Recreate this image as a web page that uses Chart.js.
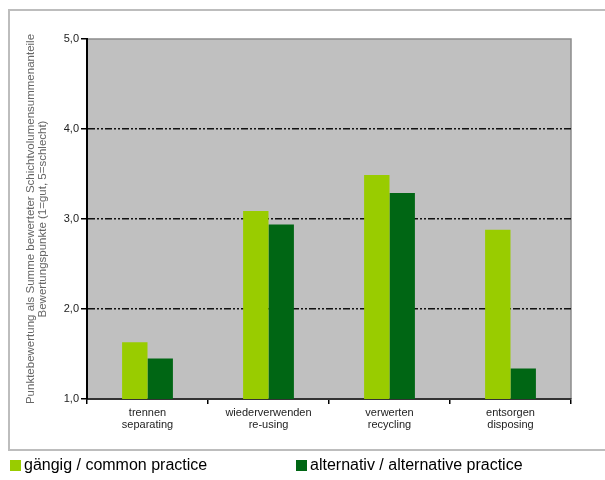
<!DOCTYPE html>
<html>
<head>
<meta charset="utf-8">
<script src="https://cdn.jsdelivr.net/npm/chart.js@4/dist/chart.umd.min.js"></script>
<style>
  html, body { margin: 0; padding: 0; background: #fff; }
  #wrap { position: relative; width: 605px; height: 480px; }
  #legend { position: absolute; left: 10px; top: 456px; font-family: Arial, "Liberation Sans", sans-serif; font-size: 16px; color: #000; white-space: nowrap; }
  .item { position: absolute; top: 0; display: flex; align-items: center; }
  .sw { width: 11px; height: 11px; margin-right: 3px; display: inline-block; }
</style>
</head>
<body>
<div id="wrap">
  <canvas id="c" width="605" height="480"></canvas>
  <div id="legend"></div>
</div>
<script>
const categories = [["trennen", "separating"], ["wiederverwenden", "re-using"], ["verwerten", "recycling"], ["entsorgen", "disposing"]];
const seriesNames = ["gängig / common practice", "alternativ / alternative practice"];
const commonPractice = [1.63, 3.09, 3.49, 2.88];
const alternativePractice = [1.45, 2.94, 3.29, 1.34];
const yTickValues = [1, 2, 3, 4, 5];
const yTickLabels = ["1,0", "2,0", "3,0", "4,0", "5,0"];
const yTitle = ["Punktebewertung als Summe bewerteter Schichtvolumensummenanteile", "Bewertungspunkte (1=gut, 5=schlecht)"];
const colors = ["#99CC00", "#006614"];

const frame = {
  id: 'frame',
  beforeDraw(chart) {
    const ctx = chart.ctx, a = chart.chartArea;
    ctx.save();
    ctx.strokeStyle = '#bdbdbd';
    ctx.lineWidth = 2;
    ctx.strokeRect(9, 10, 620, 440);
    ctx.fillStyle = '#C0C0C0';
    ctx.fillRect(a.left, a.top, a.right - a.left, a.bottom - a.top);
    ctx.strokeStyle = '#8c8c8c';
    ctx.lineWidth = 1.5;
    ctx.beginPath();
    ctx.moveTo(a.left, a.top);
    ctx.lineTo(a.right, a.top);
    ctx.lineTo(a.right, a.bottom);
    ctx.stroke();
    ctx.restore();
  }
};

new Chart(document.getElementById('c'), {
  type: 'bar',
  data: {
    labels: categories,
    datasets: [
      { label: seriesNames[0], data: commonPractice, backgroundColor: colors[0], borderWidth: 0, categoryPercentage: 0.42, barPercentage: 1 },
      { label: seriesNames[1], data: alternativePractice, backgroundColor: colors[1], borderWidth: 0, categoryPercentage: 0.42, barPercentage: 1 }
    ]
  },
  options: {
    responsive: false,
    animation: false,
    devicePixelRatio: 1,
    layout: { padding: { left: 0, top: 39, right: 34, bottom: 0 } },
    plugins: { legend: { display: false }, tooltip: { enabled: false } },
    scales: {
      x: {
        afterFit(s) { s.height = 81; },
        grid: { offset: true, drawOnChartArea: false, tickLength: 5, color: '#000', lineWidth: 1.5 },
        border: { color: '#333', width: 2 },
        ticks: { color: '#222', font: { family: 'Arial, "Liberation Sans"', size: 11, lineHeight: 1.1 }, padding: 3, maxRotation: 0, autoSkip: false }
      },
      y: {
        min: 1, max: 5,
        afterFit(s) { s.width = 87; },
        afterBuildTicks(s) { s.ticks = yTickValues.map(v => ({ value: v })); },
        grid: {
          color: c => (c.tick && c.tick.value > 1 && c.tick.value < 5) ? '#111' : 'rgba(0,0,0,0)',
          lineWidth: 1.6,
          tickColor: '#000',
          tickLength: 6,
          tickBorderDash: [1, 0]
        },
        border: { color: '#000', width: 2, dash: [7, 2, 2, 2, 2, 2] },
        ticks: {
          color: '#222', padding: 2,
          font: { family: 'Arial, "Liberation Sans"', size: 11 },
          callback: (v) => yTickLabels[yTickValues.indexOf(v)]
        },
        title: {
          display: true, text: yTitle, color: '#666',
          font: { family: 'Arial, "Liberation Sans"', size: 11.5, lineHeight: 1.05 },
          padding: { top: 25, bottom: 0 }
        }
      }
    }
  },
  plugins: [frame]
});

const lg = document.getElementById('legend');
const lefts = [0, 286];
seriesNames.forEach((n, i) => {
  const d = document.createElement('div');
  d.className = 'item';
  d.style.left = lefts[i] + 'px';
  const sw = document.createElement('span');
  sw.className = 'sw';
  sw.style.background = colors[i];
  const t = document.createElement('span');
  t.textContent = n;
  d.appendChild(sw); d.appendChild(t);
  lg.appendChild(d);
});
</script>
</body>
</html>
